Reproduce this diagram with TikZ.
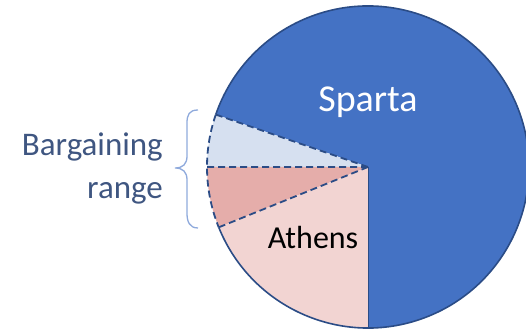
\documentclass[tikz,border=0pt]{standalone}
\usepackage{fontspec}
\setmainfont{Carlito}
\usepackage{tikz}
\usetikzlibrary{calc}

\definecolor{spartablue}{HTML}{4472C4}
\definecolor{rimblue}{HTML}{2B4C86}
\definecolor{rangeblue}{HTML}{D6E0F0}
\definecolor{rangepink}{HTML}{E5ADAA}
\definecolor{athenspink}{HTML}{F2D4D2}
\definecolor{labelblue}{HTML}{3F5681}
\definecolor{braceblue}{HTML}{8FAADC}

\tikzset{
    rim/.style={draw=rimblue,line width=1.6pt},
    cut/.style={draw=rimblue,line width=1.8pt,dash pattern=on 7pt off 4pt},
}

\begin{document}
\begin{tikzpicture}[x=1pt,y=1pt]
        \useasboundingbox (0,0) rectangle (526,334);
        \clip (0,0) rectangle (526,334);
        \coordinate (o) at (368,167);

        \fill[spartablue] (o) -- +(-90:161pt) arc (-90:161:161pt) -- cycle;
        \fill[rangeblue] (o) -- +(161:161pt) arc (161:180:161pt) -- cycle;
        \fill[rangepink] (o) -- +(180:161pt) arc (180:202:161pt) -- cycle;
        \fill[athenspink] (o) -- +(202:161pt) arc (202:270:161pt) -- cycle;

        \draw[rim] (o) +(202:161pt) arc (202:521:161pt);
        \draw[rim,line width=1pt] (o) -- +(270:161pt);
        \draw[cut] (o) +(161:161pt) arc (161:202:161pt);
        \draw[cut] (o) -- +(161:161pt) (o) -- +(180:161pt) (o) -- +(202:161pt);

        \node[white,anchor=base,inner sep=0] (sparta) at (368,222) {\fontsize{38}{40}\selectfont Sparta};
        \node[black,anchor=base,inner sep=0] (athens) at (313,85) {\fontsize{32}{34}\selectfont Athens};

	
        \node[labelblue,anchor=east,align=right,inner sep=0,font=\fontsize{33}{43}\selectfont] (range) at (163,166) {Bargaining\\range};
        \draw[braceblue,line width=1.3pt] (198,224) .. controls (189,224) and (187,219) .. (187,211) -- (187,178)
            .. controls (187,170) and (183,166) .. (175,166) .. controls (183,166) and (187,162) .. (187,154)
            -- (187,121) .. controls (187,113) and (189,106) .. (198,106);
    \end{tikzpicture}
\end{document}
